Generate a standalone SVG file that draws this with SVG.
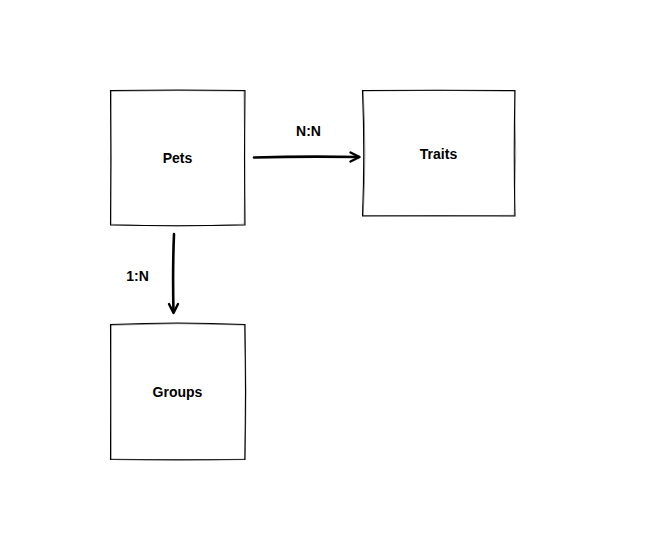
<svg xmlns="http://www.w3.org/2000/svg" width="667" height="540" viewBox="0 0 667 540">
<style>
.box{fill:#ffffff;stroke:#000;stroke-width:1.1}
.sk{fill:none;stroke:#000;stroke-width:0.6;opacity:0.7}
.lbl{font-family:"Liberation Sans",Arial,sans-serif;font-size:14px;font-weight:bold;fill:#000;text-anchor:middle}
.edge{fill:none;stroke:#000;stroke-width:2.6;stroke-linecap:round}
.head{fill:none;stroke:#000;stroke-width:2.4;stroke-linecap:round;stroke-linejoin:round}
</style>
<rect width="667" height="540" fill="#ffffff"/>
<g id="pets">
<path class="box" d="M110.5 90.5 Q178 89.5 245 90.5 Q244 158 245 225 Q178 226.5 110.5 225 Q111.5 158 110.5 90.5 Z"/>
<path class="sk" d="M111 91.2 Q178 90 244.5 91 M244 91 Q245.5 158 244.2 224.5 M245 224.2 Q178 227.5 111 224.3 M111 224.8 Q110 158 111.2 91"/>
<text class="lbl" x="177.5" y="163.3">Pets</text>
</g>
<g id="traits">
<path class="box" d="M362.5 90.5 Q438 90 515 90.5 Q513.5 153 515 216 Q438 215.5 362.5 216 Q365 153 362.5 90.5 Z"/>
<path class="sk" d="M363 91 Q438 89.6 514.5 91.2 M514.5 91 Q517 153 514.2 215.5 M514.5 215.3 Q438 216.8 363 215.4 M363.2 215.5 Q366.5 153 363.2 91"/>
<text class="lbl" x="438.5" y="158.5">Traits</text>
</g>
<g id="groups">
<path class="box" d="M110.5 324.5 Q178 321.5 245 324.5 Q246 392 245 459.5 Q178 460 110.5 459.5 Q111 392 110.5 324.5 Z"/>
<path class="sk" d="M111 325.2 Q178 322.2 244.5 325 M244.3 325 Q247.5 392 244.5 459 M244.8 459.2 Q178 461.3 111 459 M111.2 459 Q110.2 392 111.2 325"/>
<text class="lbl" x="177.5" y="397">Groups</text>
</g>
<g id="connectors">
<path class="edge" d="M254 157.5 Q305 156 359 157"/>
<path class="head" d="M350.5 152.5 L359.5 157 L350.5 161.5"/>
<text class="lbl" x="308.5" y="136">N:N</text>
<path class="edge" d="M174 234 Q172.5 270 173.5 312"/>
<path class="head" d="M169 304 L173.5 313 L178 304"/>
<text class="lbl" x="137.5" y="280.7">1:N</text>
</g>
</svg>
